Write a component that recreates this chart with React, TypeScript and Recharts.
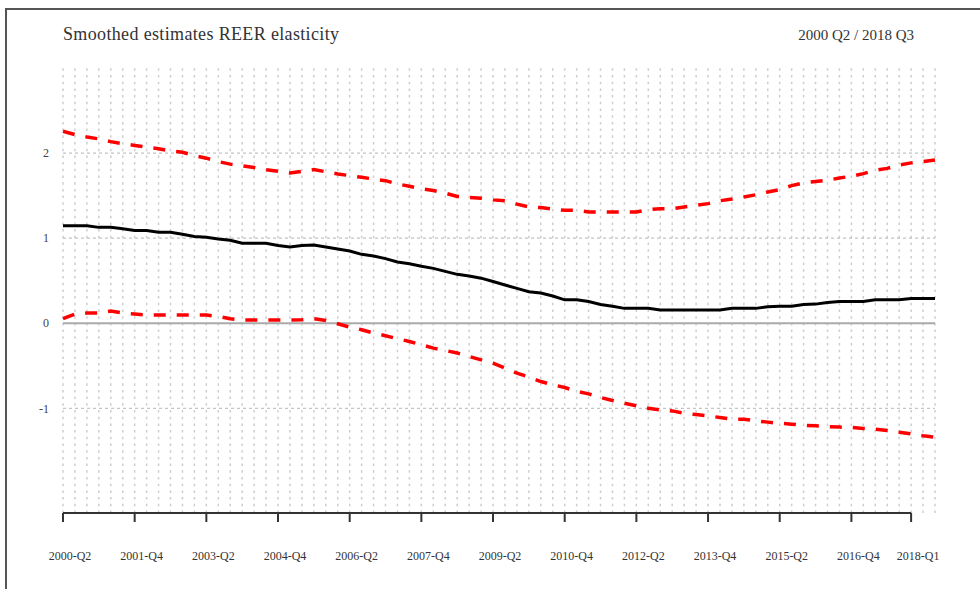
import React from "react";
import { LineChart, Line, XAxis, YAxis, ReferenceLine } from "recharts";

// quarterly smoothed estimates, 2000 Q2 .. 2018 Q3
const estimate = [
  1.147, 1.147, 1.147, 1.127, 1.127, 1.11, 1.09, 1.09, 1.07, 1.07,
  1.045, 1.02, 1.01, 0.99, 0.975, 0.94, 0.94, 0.94, 0.915, 0.896,
  0.915, 0.92, 0.896, 0.873, 0.85, 0.81, 0.79, 0.76, 0.72, 0.7,
  0.67, 0.645, 0.61, 0.575, 0.555, 0.53, 0.49, 0.45, 0.41, 0.37,
  0.355, 0.32, 0.275, 0.275, 0.255, 0.22, 0.2, 0.175, 0.175, 0.175,
  0.155, 0.155, 0.155, 0.155, 0.155, 0.155, 0.175, 0.175, 0.175, 0.195,
  0.2, 0.2, 0.22, 0.225, 0.245, 0.255, 0.255, 0.255, 0.275, 0.275,
  0.275, 0.29, 0.29, 0.29,
];

const upperBand = [
  2.256, 2.218, 2.19, 2.167, 2.135, 2.11, 2.09, 2.07, 2.05, 2.025,
  2.01, 1.97, 1.94, 1.9, 1.87, 1.85, 1.83, 1.805, 1.786, 1.767,
  1.786, 1.806, 1.78, 1.755, 1.735, 1.715, 1.695, 1.676, 1.637, 1.61,
  1.58, 1.56, 1.53, 1.49, 1.48, 1.47, 1.45, 1.44, 1.4, 1.367,
  1.36, 1.343, 1.327, 1.327, 1.308, 1.308, 1.308, 1.308, 1.308, 1.335,
  1.347, 1.347, 1.367, 1.386, 1.406, 1.44, 1.46, 1.485, 1.51, 1.543,
  1.57, 1.618, 1.65, 1.665, 1.68, 1.708, 1.727, 1.759, 1.798, 1.82,
  1.86, 1.885, 1.9, 1.92,
];

const lowerBand = [
  0.055, 0.108, 0.12, 0.12, 0.143, 0.12, 0.108, 0.096, 0.096, 0.096,
  0.096, 0.096, 0.096, 0.08, 0.053, 0.037, 0.037, 0.037, 0.037, 0.037,
  0.04, 0.053, 0.033, -0.006, -0.045, -0.076, -0.115, -0.147, -0.182, -0.214,
  -0.253, -0.292, -0.32, -0.35, -0.39, -0.43, -0.468, -0.527, -0.586, -0.633,
  -0.685, -0.723, -0.755, -0.8, -0.83, -0.872, -0.908, -0.94, -0.97, -1.0,
  -1.018, -1.03, -1.057, -1.073, -1.088, -1.108, -1.127, -1.127, -1.147, -1.162,
  -1.176, -1.186, -1.2, -1.206, -1.214, -1.22, -1.225, -1.237, -1.245, -1.26,
  -1.28, -1.3, -1.323, -1.34,
];

const tickIndex = [0, 6, 12, 18, 24, 30, 36, 42, 48, 54, 60, 66, 71];
const tickLabels = [
  "2000-Q2", "2001-Q4", "2003-Q2", "2004-Q4", "2006-Q2", "2007-Q4", "2009-Q2",
  "2010-Q4", "2012-Q2", "2013-Q4", "2015-Q2", "2016-Q4", "2018-Q1",
];
const yTicks = [-1, 0, 1, 2];
const yGrid = [-1, 1, 2];
const yDomain = [-2.23, 3.0];

const data = estimate.map((v, i) => ({
  q: i,
  mid: v,
  hi: upperBand[i],
  lo: lowerBand[i],
}));

const FONT = "'Liberation Serif', 'Times New Roman', serif";

function XTick(props: any) {
  const { x, y, payload } = props;
  const k = tickIndex.indexOf(payload.value);
  return (
    <text x={x + 7} y={y} dy="0.71em" textAnchor="middle" fill="#333" fontSize={12} fontFamily={FONT}>
      {k >= 0 ? tickLabels[k] : ""}
    </text>
  );
}

function YTick(props: any) {
  const { x, y, payload } = props;
  return (
    <text x={x} y={y} dy="0.35em" textAnchor="end" fill="#444" fontSize={12} fontFamily={FONT}>
      {payload.value}
    </text>
  );
}

export default function App() {
  return (
    <div style={{ position: "absolute", left: 0, top: 0, width: 980, height: 589, overflow: "hidden", background: "#fff" }}>
      <div
        style={{
          position: "absolute",
          left: 5,
          top: 8,
          width: 1200,
          height: 800,
          borderLeft: "2px solid #555",
          borderTop: "2px solid #555",
        }}
      />
      <svg width={980} height={589} style={{ position: "absolute", left: 0, top: 0 }}>
        <text x={63} y={40} fontSize={18} letterSpacing={0.35} fill="#333" fontFamily={FONT}>
          Smoothed estimates REER elasticity
        </text>
        <text x={914} y={40} fontSize={15} textAnchor="end" fill="#333" fontFamily={FONT}>
          2000 Q2 / 2018 Q3
        </text>
      </svg>
      <div style={{ position: "absolute", left: 0, top: 0 }}>
        <LineChart width={980} height={589} data={data} margin={{ top: 68, right: 45, bottom: 16, left: 0 }}>
          <XAxis
            dataKey="q"
            type="number"
            domain={[0, 73]}
            ticks={tickIndex}
            interval={0}
            axisLine={false}
            tickLine={{ stroke: "#333", strokeWidth: 2 }}
            tickSize={9}
            tickMargin={29}
            height={60}
            tick={<XTick />}
          />
          <YAxis
            type="number"
            domain={yDomain}
            ticks={yTicks}
            allowDataOverflow
            width={63}
            axisLine={false}
            tickLine={false}
            tickSize={0}
            tickMargin={14}
            tick={<YTick />}
          />

          {data.map(d => (
            <ReferenceLine key={`vx${d.q}`} x={d.q} stroke="#cdcdcd" strokeWidth={1.5} strokeDasharray="2.5 4.2" />
          ))}
          {yGrid.map(v => (
            <ReferenceLine key={`hy${v}`} y={v} stroke="#c4c4c4" strokeWidth={1.2} strokeDasharray="3 3" />
          ))}
          <ReferenceLine y={0} stroke="#aaaaaa" strokeWidth={1.8} />
          <ReferenceLine
            segment={[{ x: 0, y: yDomain[0] }, { x: 71, y: yDomain[0] }]}
            stroke="#333"
            strokeWidth={2}
          />

          <Line
            type="linear"
            dataKey="hi"
            stroke="#ff0000"
            strokeWidth={3.5}
            strokeDasharray="12 11"
            dot={false}
            isAnimationActive={false}
          />
          <Line
            type="linear"
            dataKey="lo"
            stroke="#ff0000"
            strokeWidth={3.5}
            strokeDasharray="12 11"
            dot={false}
            isAnimationActive={false}
          />
          <Line
            type="linear"
            dataKey="mid"
            stroke="#000"
            strokeWidth={3}
            dot={false}
            isAnimationActive={false}
          />
        </LineChart>
      </div>
    </div>
  );
}
